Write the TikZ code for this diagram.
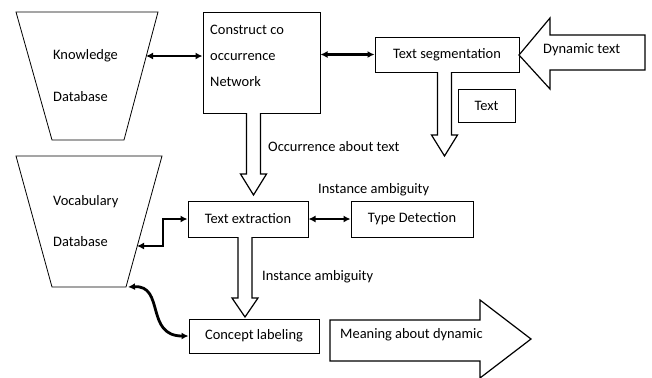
\documentclass[tikz,border=0pt]{standalone}
\usepackage{fontspec}
\setmainfont{Carlito}
\usetikzlibrary{arrows.meta}

\tikzset{
    box/.style={draw, line width=1bp, inner sep=0pt},
    txt/.style={inner sep=0pt, align=left},
    both/.style={{Latex[length=7bp,width=7bp]}-{Latex[length=7bp,width=7bp]}, line width=2.8bp},
    hollow/.style={draw, line width=1.2bp, fill=white, line join=miter},
    dbase/.style={draw, line width=0.8bp},
}

% hollow arrow pointing down: centre x, top, neck, tip
\newcommand\downblock[4]{%
    \draw[hollow] (#1-7,#2) -- (#1-7,#3) -- (#1-13,#3) -- (#1,#4)
        -- (#1+13,#3) -- (#1+7,#3) -- (#1+7,#2);}

\begin{document}
\begin{tikzpicture}[x=1bp, y=-1bp, font=\fontsize{14.5}{17}\selectfont]

    \useasboundingbox (0,0) rectangle (652,377);

    % Knowledge database
    \draw[dbase] (16,12) -- (158,12) -- (124,140) -- (52,140) -- cycle;
    \node[txt, anchor=west] (kdbT) at (53,76) {Knowledge\\[25bp]Database};
    \coordinate (kdbR) at (146,56);

    % Vocabulary database
    \draw[dbase] (16,156) -- (162,156) -- (126,287) -- (52,287) -- cycle;
    \node[txt, anchor=west] (vdbT) at (53,221) {Vocabulary\\[25bp]Database};
    \coordinate (vdbR) at (137,246);
    \coordinate (vdbB) at (128,287);

    % Boxes
    \node[box, minimum width=117bp, minimum height=101bp] (cons) at (261.5,62.5) {};
    \node[txt, anchor=west] (consT) at (210,56) {Construct co\\[9bp]occurrence\\[9bp]Network};
    \node[box, minimum width=144bp, minimum height=35bp] (seg) at (447,54.5) {Text segmentation};
    \node[box, minimum width=57bp, minimum height=33bp] (textb) at (486.5,105.5) {Text};
    \node[box, minimum width=120bp, minimum height=36bp] (ext) at (248,219) {Text extraction};
    \node[box, minimum width=122bp, minimum height=36bp] (typ) at (412,219) {Type Detection};
    \node[box, minimum width=130bp, minimum height=34bp] (con) at (254,336) {Concept labeling};

    % Hollow arrows
    \downblock{253.5}{113}{174}{195}
    \downblock{444.5}{72}{135}{156}
    \downblock{245}{237}{298}{317}

    % Dynamic text arrow
    \draw[hollow] (645,35) -- (550,35) -- (550,18) -- (519,55) -- (550,89)
        -- (550,70) -- (645,70) -- cycle;
    \node[txt, anchor=west] (dyn) at (543,50) {Dynamic text};

    % Meaning arrow
    \draw[hollow] (330,320) -- (480,320) -- (480,300) -- (531,339) -- (480,378)
        -- (480,361) -- (330,361) -- cycle;
    \node[txt, anchor=west] (mean) at (340,335) {Meaning about dynamic};

    % Labels
    \node[txt, anchor=west] (occ) at (268,147) {Occurrence about text};
    \node[txt, anchor=west] (amb1) at (318,190) {Instance ambiguity};
    \node[txt, anchor=west] (amb2) at (262,277) {Instance ambiguity};

    % Connectors
    \draw[both] (kdbR) -- (cons.west |- kdbR);
    \draw[both] (seg.west -| cons.east) -- (seg.west);
    \draw[both] (ext.west) -- (163,219) -- (163,246) -- (vdbR);
    \draw[both] (ext.east) -- (typ.west);
    \draw[both] (vdbB) .. controls (165,285) and (145,336) .. (con.west);

\end{tikzpicture}
\end{document}
